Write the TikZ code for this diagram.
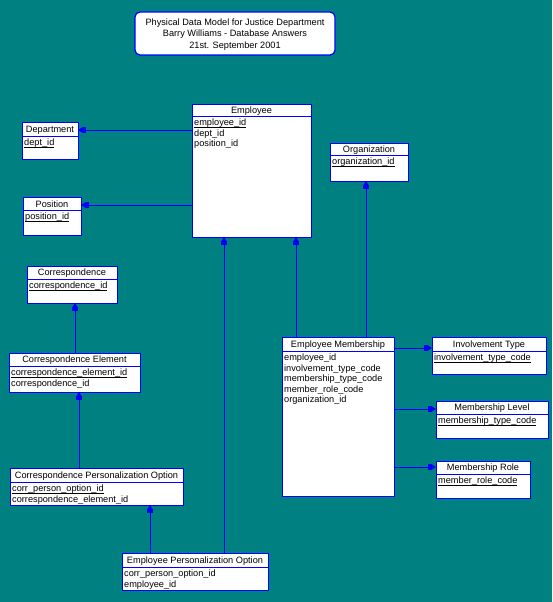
\documentclass[tikz,border=0pt]{standalone}
\usepackage{fontspec}
\setmainfont{Liberation Sans}
\usetikzlibrary{arrows.meta}
\definecolor{teal}{RGB}{0,128,128}
\definecolor{erblue}{RGB}{0,0,255}
\newsavebox\ulbox
\newcommand\ul[1]{\sbox\ulbox{#1}\rlap{\rule[-2.3pt]{\wd\ulbox}{0.8pt}}\usebox\ulbox}
\tikzset{
  x=1pt, y=-1pt,
  entbox/.style={draw=erblue, fill=white, line width=1pt, inner sep=0pt, outer sep=0pt, rectangle},
  entline/.style={draw=erblue, line width=1pt},
  hdr/.style={font=\fontsize{9.2}{10.5}\selectfont, inner sep=0pt},
  rowtxt/.style={font=\fontsize{9.2}{10.6}\selectfont, align=left, inner xsep=2pt, inner ysep=2.6pt},
  rel/.style={draw=erblue, line width=1pt, -{Rectangle[length=3pt,width=6pt]Triangle[length=5pt,width=6pt]}},
  titlebox/.style={draw=erblue, fill=white, line width=1.2pt, rounded corners=5pt, inner sep=0pt, outer sep=0pt},
}
\newcommand\ent[8]{%
  \node[entbox, minimum width={#4-#2}, minimum height={#5-#3}, anchor=north west] (#1) at (#2,#3) {};
  \draw[entline] (#2,#6) -- (#4,#6);
  \node[hdr] (#1-h) at ({(#2+#4)/2},{(#3+#6)/2+1}) {#7};
  \node[rowtxt, anchor=north west] (#1-r) at (#2,#6) {#8};
}
\begin{document}
\begin{tikzpicture}
\fill[teal] (0,0) rectangle (552,602);
\useasboundingbox (0,0) rectangle (552,602);
% title
\node[titlebox, minimum width=200pt, minimum height=43pt, anchor=north west] (title) at (135,12) {};
\node[hdr, align=center, font=\fontsize{9.2}{11.5}\selectfont] (titletxt) at ([yshift=-1pt]title.center) {Physical Data Model for Justice Department\\Barry Williams - Database Answers\\21st. September 2001};
% entities
\ent{emp}{192}{104}{311}{237}{116}{Employee}{\ul{employee\_id}\\dept\_id\\position\_id}
\ent{dept}{22}{122}{78}{159}{136}{Department}{\ul{dept\_id}}
\ent{pos}{23}{197}{81}{235}{210}{Position}{\ul{position\_id}}
\ent{org}{330}{143}{408}{181}{155}{Organization}{\ul{organization\_id}}
\ent{corr}{27}{266}{117}{303}{279}{Correspondence}{\ul{correspondence\_id}}
\ent{ce}{9}{353}{140}{392}{366}{Correspondence Element}{\ul{correspondence\_element\_id}\\correspondence\_id}
\ent{cpo}{10}{468}{183}{505}{482}{Correspondence Personalization Option}{\ul{corr\_person\_option\_id}\\correspondence\_element\_id}
\ent{epo}{122}{553}{268}{590}{567}{Employee Personalization Option}{corr\_person\_option\_id\\employee\_id}
\ent{em}{282}{337}{394}{496}{351}{Employee Membership}{employee\_id\\involvement\_type\_code\\membership\_type\_code\\member\_role\_code\\organization\_id}
\ent{it}{432}{337}{546}{374}{351}{Involvement Type}{\ul{involvement\_type\_code}}
\ent{ml}{436}{401}{548}{438}{414}{Membership Level}{\ul{membership\_type\_code}}
\ent{mr}{436}{461}{530}{498}{474}{Membership Role}{\ul{member\_role\_code}}
% relationships
\draw[rel] (emp.west |- 0,130) -- (dept.east |- 0,130);
\draw[rel] (emp.west |- 0,205) -- (pos.east |- 0,205);
\draw[rel] (ce.north -| 75,0) -- (corr.south -| 75,0);
\draw[rel] (cpo.north -| 79,0) -- (ce.south -| 79,0);
\draw[rel] (epo.north -| 150,0) -- (cpo.south -| 150,0);
\draw[rel] (epo.north -| 224,0) -- (emp.south -| 224,0);
\draw[rel] (em.north -| 296,0) -- (emp.south -| 296,0);
\draw[rel] (em.north -| 366,0) -- (org.south -| 366,0);
\draw[rel] (em.east |- 0,348) -- (it.west |- 0,348);
\draw[rel] (em.east |- 0,409) -- (ml.west |- 0,409);
\draw[rel] (em.east |- 0,467) -- (mr.west |- 0,467);
\end{tikzpicture}
\end{document}
